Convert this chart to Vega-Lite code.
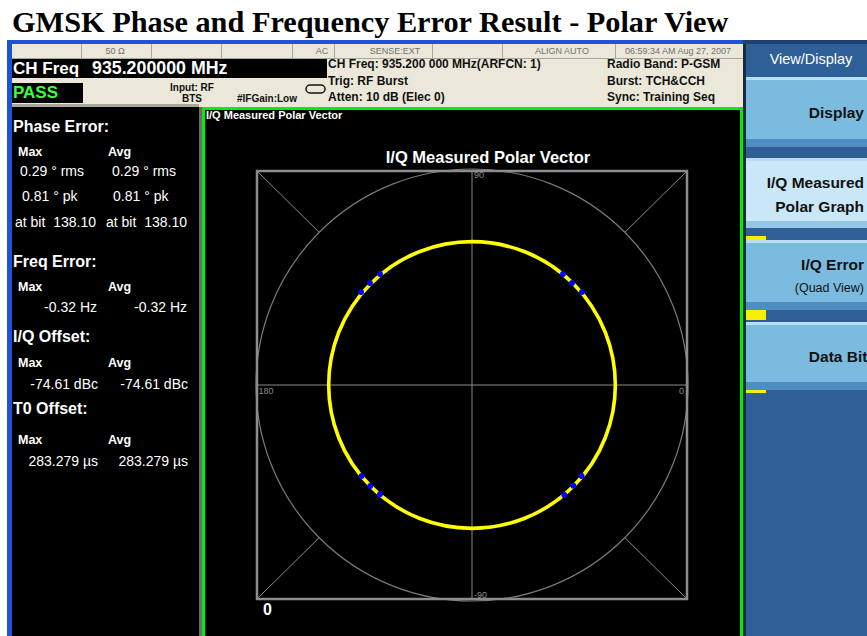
{
  "$schema": "https://vega.github.io/schema/vega-lite/v6.json",
  "width": 867,
  "height": 636,
  "padding": 0,
  "autosize": {"type": "none"},
  "background": "#ffffff",
  "config": {"view": {"stroke": null}},
  "datasets": {
    "rects": [
      {"part": "blue", "x": 7, "x2": 867, "y": 40, "y2": 636},
      {"part": "beige", "x": 12, "x2": 743, "y": 44, "y2": 107},
      {"part": "line", "x": 12, "x2": 743, "y": 58, "y2": 59},
      {"part": "line", "x": 81, "x2": 82, "y": 44, "y2": 58},
      {"part": "line", "x": 151, "x2": 152, "y": 44, "y2": 58},
      {"part": "line", "x": 221, "x2": 222, "y": 44, "y2": 58},
      {"part": "line", "x": 292, "x2": 293, "y": 44, "y2": 58},
      {"part": "line", "x": 334, "x2": 335, "y": 44, "y2": 58},
      {"part": "line", "x": 432, "x2": 433, "y": 44, "y2": 58},
      {"part": "line", "x": 502, "x2": 503, "y": 44, "y2": 58},
      {"part": "line", "x": 615, "x2": 616, "y": 44, "y2": 58},
      {"part": "black", "x": 12, "x2": 327, "y": 59, "y2": 78},
      {"part": "black", "x": 12, "x2": 83, "y": 83, "y2": 103},
      {"part": "line", "x": 12, "x2": 199, "y": 104, "y2": 107},
      {"part": "black", "x": 12, "x2": 199, "y": 107, "y2": 636},
      {"part": "gray", "x": 199, "x2": 202, "y": 107, "y2": 636},
      {"part": "green", "x": 202, "x2": 743, "y": 107, "y2": 636},
      {"part": "black", "x": 205, "x2": 740, "y": 110, "y2": 636},
      {"part": "navy", "x": 743, "x2": 867, "y": 40, "y2": 636},
      {"part": "navyTop", "x": 743, "x2": 867, "y": 40, "y2": 44},
      {"part": "dark", "x": 743, "x2": 746, "y": 44, "y2": 636},
      {"part": "key", "x": 746, "x2": 867, "y": 77, "y2": 147},
      {"part": "keyHi", "x": 746, "x2": 867, "y": 77, "y2": 80},
      {"part": "keyLo", "x": 746, "x2": 867, "y": 139, "y2": 147},
      {"part": "keySel", "x": 746, "x2": 867, "y": 158, "y2": 228},
      {"part": "keyHi", "x": 746, "x2": 867, "y": 158, "y2": 161},
      {"part": "keySelLo", "x": 746, "x2": 867, "y": 221, "y2": 228},
      {"part": "key", "x": 746, "x2": 867, "y": 240, "y2": 310},
      {"part": "keyHi", "x": 746, "x2": 867, "y": 240, "y2": 243},
      {"part": "keyLo", "x": 746, "x2": 867, "y": 302, "y2": 310},
      {"part": "key", "x": 746, "x2": 867, "y": 322, "y2": 390},
      {"part": "keyHi", "x": 746, "x2": 867, "y": 322, "y2": 325},
      {"part": "keyLo", "x": 746, "x2": 867, "y": 382, "y2": 390},
      {"part": "yellow", "x": 746, "x2": 766, "y": 236, "y2": 240},
      {"part": "yellow", "x": 746, "x2": 766, "y": 310, "y2": 320},
      {"part": "yellow", "x": 746, "x2": 766, "y": 390, "y2": 393}
    ],
    "icon": [{"x": 306, "x2": 325, "y": 85, "y2": 93}],
    "texts": [
      {"role": "title", "t": "GMSK Phase and Frequency Error Result - Polar View", "x": 12, "y": 32},
      {"role": "cell", "t": "50 Ω", "x": 115, "y": 51},
      {"role": "cell", "t": "AC", "x": 322, "y": 51},
      {"role": "cell", "t": "SENSE:EXT", "x": 395, "y": 51},
      {"role": "cell", "t": "ALIGN AUTO", "x": 562, "y": 51},
      {"role": "cell", "t": "06:59:34 AM Aug 27, 2007", "x": 678, "y": 51},
      {"role": "big", "t": "CH Freq", "x": 13, "y": 69},
      {"role": "big2", "t": "935.200000 MHz", "x": 92, "y": 69},
      {"role": "pass", "t": "PASS", "x": 13, "y": 93},
      {"role": "hdr", "t": "CH Freq: 935.200 000 MHz(ARFCN: 1)", "x": 328, "y": 64},
      {"role": "hdr", "t": "Trig: RF Burst", "x": 328, "y": 81},
      {"role": "hdr", "t": "Atten: 10 dB (Elec 0)", "x": 328, "y": 97},
      {"role": "hdr", "t": "Radio Band: P-GSM", "x": 607, "y": 64},
      {"role": "hdr", "t": "Burst: TCH&CCH", "x": 607, "y": 81},
      {"role": "hdr", "t": "Sync: Training Seq", "x": 607, "y": 97},
      {"role": "hdrc", "t": "Input: RF", "x": 192, "y": 88},
      {"role": "hdrc", "t": "BTS", "x": 192, "y": 99},
      {"role": "hdrc", "t": "#IFGain:Low", "x": 267, "y": 99},
      {"role": "head", "t": "Phase Error:", "x": 13, "y": 127},
      {"role": "head", "t": "Freq Error:", "x": 13, "y": 262},
      {"role": "head", "t": "I/Q Offset:", "x": 13, "y": 337},
      {"role": "head", "t": "T0 Offset:", "x": 13, "y": 409},
      {"role": "lab", "t": "Max", "x": 18, "y": 152},
      {"role": "lab", "t": "Avg", "x": 108, "y": 152},
      {"role": "lab", "t": "Max", "x": 18, "y": 287},
      {"role": "lab", "t": "Avg", "x": 108, "y": 287},
      {"role": "lab", "t": "Max", "x": 18, "y": 363},
      {"role": "lab", "t": "Avg", "x": 108, "y": 363},
      {"role": "lab", "t": "Max", "x": 18, "y": 440},
      {"role": "lab", "t": "Avg", "x": 108, "y": 440},
      {"role": "val", "t": "0.29 ° rms", "x": 20, "y": 172},
      {"role": "val", "t": "0.29 ° rms", "x": 112, "y": 172},
      {"role": "val", "t": "0.81 ° pk", "x": 22, "y": 197},
      {"role": "val", "t": "0.81 ° pk", "x": 113, "y": 197},
      {"role": "val", "t": "at bit\u00a0 138.10", "x": 15, "y": 223},
      {"role": "val", "t": "at bit\u00a0 138.10", "x": 106, "y": 223},
      {"role": "valr", "t": "-0.32 Hz", "x": 97, "y": 308},
      {"role": "valr", "t": "-0.32 Hz", "x": 187, "y": 308},
      {"role": "valr", "t": "-74.61 dBc", "x": 98, "y": 385},
      {"role": "valr", "t": "-74.61 dBc", "x": 188, "y": 385},
      {"role": "valr", "t": "283.279 µs", "x": 98, "y": 462},
      {"role": "valr", "t": "283.279 µs", "x": 188, "y": 462},
      {"role": "small", "t": "I/Q Measured Polar Vector", "x": 206, "y": 116},
      {"role": "ptitle", "t": "I/Q Measured Polar Vector", "x": 488, "y": 158},
      {"role": "zero", "t": "0", "x": 263, "y": 610},
      {"role": "skh", "t": "View/Display", "x": 811, "y": 60},
      {"role": "sk", "t": "Display", "x": 864, "y": 113},
      {"role": "sk", "t": "I/Q Measured", "x": 864, "y": 183},
      {"role": "sk", "t": "Polar Graph", "x": 864, "y": 207},
      {"role": "sk", "t": "I/Q Error", "x": 864, "y": 265},
      {"role": "sk", "t": "Data Bits", "x": 876, "y": 357},
      {"role": "skr", "t": "(Quad View)", "x": 864, "y": 288}
    ],
    "circles": [
      {"kind": "grid", "i": 0, "q": 0, "r": 1.507},
      {"kind": "trace", "i": 0, "q": 0, "r": 1.0}
    ],
    "pgrid": [
      {"i": -1.5, "q": 0, "i2": 1.5, "q2": 0},
      {"i": 0, "q": -1.5, "i2": 0, "q2": 1.5},
      {"i": -1.5, "q": 1.5, "i2": -1.068, "q2": 1.072},
      {"i": 1.5, "q": 1.5, "i2": 1.068, "q2": 1.072},
      {"i": -1.5, "q": -1.5, "i2": -1.068, "q2": -1.072},
      {"i": 1.5, "q": -1.5, "i2": 1.068, "q2": -1.072}
    ],
    "pbox": [{"i": -1.5, "i2": 1.5, "q": -1.5, "q2": 1.5}],
    "plabels": [
      {"t": "90", "i": 0.014, "q": 1.47},
      {"t": "180", "i": -1.49, "q": -0.045},
      {"t": "0", "i": 1.444, "q": -0.045},
      {"t": "-90", "i": 0.014, "q": -1.472}
    ],
    "dots": [
      {"i": -0.642, "q": 0.778}, {"i": -0.712, "q": 0.715}, {"i": -0.774, "q": 0.652},
      {"i": 0.635, "q": 0.778}, {"i": 0.698, "q": 0.715}, {"i": 0.767, "q": 0.652},
      {"i": -0.77, "q": -0.638}, {"i": -0.71, "q": -0.708}, {"i": -0.642, "q": -0.766},
      {"i": 0.765, "q": -0.638}, {"i": 0.707, "q": -0.706}, {"i": 0.644, "q": -0.771}
    ]
  },
  "layer": [
    {
      "encoding": {
        "x": {"field": "x", "type": "quantitative", "axis": null, "scale": {"domain": [0, 867], "range": [0, 867], "nice": false, "zero": false}},
        "y": {"field": "y", "type": "quantitative", "axis": null, "scale": {"domain": [0, 636], "range": [0, 636], "nice": false, "zero": false}}
      },
      "layer": [
        {
          "data": {"name": "rects"},
          "mark": {"type": "rect", "strokeWidth": 0},
          "encoding": {
            "x2": {"field": "x2"},
            "y2": {"field": "y2"},
            "color": {
              "field": "part", "type": "nominal", "legend": null,
              "scale": {
                "domain": ["blue", "beige", "line", "black", "gray", "green", "navy", "navyTop", "dark", "key", "keyHi", "keyLo", "keySel", "keySelLo", "yellow"],
                "range": ["#1b55d6", "#ebe8d9", "#a9a79c", "#000000", "#6b6b6b", "#00f000", "#2f5f97", "#1d3f78", "#1b2a40", "#7bbbe0", "#b9def2", "#4d8dc0", "#c9e7f7", "#92c5e6", "#f4f000"]
              }
            }
          }
        },
        {
          "data": {"name": "icon"},
          "mark": {"type": "rect", "filled": false, "stroke": "#111111", "strokeWidth": 1.5, "cornerRadius": 4},
          "encoding": {"x2": {"field": "x2"}, "y2": {"field": "y2"}}
        },
        {
          "data": {"name": "texts"}, "transform": [{"filter": "datum.role === 'title'"}],
          "mark": {"type": "text", "font": "Liberation Serif", "fontSize": 30.3, "fontWeight": "bold", "align": "left", "baseline": "alphabetic", "color": "#000000"},
          "encoding": {"text": {"field": "t"}}
        },
        {
          "data": {"name": "texts"}, "transform": [{"filter": "datum.role === 'cell'"}],
          "mark": {"type": "text", "font": "Liberation Sans", "fontSize": 9, "align": "center", "baseline": "middle", "color": "#707070"},
          "encoding": {"text": {"field": "t"}}
        },
        {
          "data": {"name": "texts"}, "transform": [{"filter": "datum.role === 'big'"}],
          "mark": {"type": "text", "font": "Liberation Sans", "fontSize": 17, "fontWeight": "bold", "align": "left", "baseline": "middle", "color": "#ffffff"},
          "encoding": {"text": {"field": "t"}}
        },
        {
          "data": {"name": "texts"}, "transform": [{"filter": "datum.role === 'big2'"}],
          "mark": {"type": "text", "font": "Liberation Sans", "fontSize": 17.8, "fontWeight": "bold", "align": "left", "baseline": "middle", "color": "#ffffff"},
          "encoding": {"text": {"field": "t"}}
        },
        {
          "data": {"name": "texts"}, "transform": [{"filter": "datum.role === 'pass'"}],
          "mark": {"type": "text", "font": "Liberation Sans", "fontSize": 17, "fontWeight": "bold", "align": "left", "baseline": "middle", "color": "#3cff3c"},
          "encoding": {"text": {"field": "t"}}
        },
        {
          "data": {"name": "texts"}, "transform": [{"filter": "datum.role === 'hdr'"}],
          "mark": {"type": "text", "font": "Liberation Sans", "fontSize": 12, "fontWeight": "bold", "align": "left", "baseline": "middle", "color": "#111111"},
          "encoding": {"text": {"field": "t"}}
        },
        {
          "data": {"name": "texts"}, "transform": [{"filter": "datum.role === 'hdrc'"}],
          "mark": {"type": "text", "font": "Liberation Sans", "fontSize": 10, "fontWeight": "bold", "align": "center", "baseline": "middle", "color": "#111111"},
          "encoding": {"text": {"field": "t"}}
        },
        {
          "data": {"name": "texts"}, "transform": [{"filter": "datum.role === 'head'"}],
          "mark": {"type": "text", "font": "Liberation Sans", "fontSize": 16, "fontWeight": "bold", "align": "left", "baseline": "middle", "color": "#ffffff"},
          "encoding": {"text": {"field": "t"}}
        },
        {
          "data": {"name": "texts"}, "transform": [{"filter": "datum.role === 'lab'"}],
          "mark": {"type": "text", "font": "Liberation Sans", "fontSize": 12.5, "fontWeight": "bold", "align": "left", "baseline": "middle", "color": "#ffffff"},
          "encoding": {"text": {"field": "t"}}
        },
        {
          "data": {"name": "texts"}, "transform": [{"filter": "datum.role === 'val'"}],
          "mark": {"type": "text", "font": "Liberation Sans", "fontSize": 14, "align": "left", "baseline": "middle", "color": "#ffffff"},
          "encoding": {"text": {"field": "t"}}
        },
        {
          "data": {"name": "texts"}, "transform": [{"filter": "datum.role === 'valr'"}],
          "mark": {"type": "text", "font": "Liberation Sans", "fontSize": 14, "align": "right", "baseline": "middle", "color": "#ffffff"},
          "encoding": {"text": {"field": "t"}}
        },
        {
          "data": {"name": "texts"}, "transform": [{"filter": "datum.role === 'small'"}],
          "mark": {"type": "text", "font": "Liberation Sans", "fontSize": 11, "fontWeight": "bold", "align": "left", "baseline": "middle", "color": "#ffffff"},
          "encoding": {"text": {"field": "t"}}
        },
        {
          "data": {"name": "texts"}, "transform": [{"filter": "datum.role === 'ptitle'"}],
          "mark": {"type": "text", "font": "Liberation Sans", "fontSize": 16.5, "fontWeight": "bold", "align": "center", "baseline": "middle", "color": "#ffffff"},
          "encoding": {"text": {"field": "t"}}
        },
        {
          "data": {"name": "texts"}, "transform": [{"filter": "datum.role === 'zero'"}],
          "mark": {"type": "text", "font": "Liberation Sans", "fontSize": 16, "fontWeight": "bold", "align": "left", "baseline": "middle", "color": "#ffffff"},
          "encoding": {"text": {"field": "t"}}
        },
        {
          "data": {"name": "texts"}, "transform": [{"filter": "datum.role === 'skh'"}],
          "mark": {"type": "text", "font": "Liberation Sans", "fontSize": 14.5, "align": "center", "baseline": "middle", "color": "#ffffff"},
          "encoding": {"text": {"field": "t"}}
        },
        {
          "data": {"name": "texts"}, "transform": [{"filter": "datum.role === 'sk'"}],
          "mark": {"type": "text", "font": "Liberation Sans", "fontSize": 15.5, "fontWeight": "bold", "align": "right", "baseline": "middle", "color": "#111111"},
          "encoding": {"text": {"field": "t"}}
        },
        {
          "data": {"name": "texts"}, "transform": [{"filter": "datum.role === 'skr'"}],
          "mark": {"type": "text", "font": "Liberation Sans", "fontSize": 12.5, "align": "right", "baseline": "middle", "color": "#111111"},
          "encoding": {"text": {"field": "t"}}
        }
      ]
    },
    {
      "encoding": {
        "x": {"field": "i", "type": "quantitative", "axis": null, "scale": {"domain": [-1.5, 1.5], "range": [257, 687], "nice": false, "zero": false}},
        "y": {"field": "q", "type": "quantitative", "axis": null, "scale": {"domain": [-1.5, 1.5], "range": [599, 171], "nice": false, "zero": false}}
      },
      "layer": [
        {
          "data": {"name": "circles"}, "transform": [{"filter": "datum.kind === 'grid'"}],
          "mark": {"type": "point", "shape": "circle", "filled": false, "stroke": "#7a7a7a", "strokeWidth": 1.2, "opacity": 1},
          "encoding": {"size": {"field": "r", "type": "quantitative", "legend": null, "scale": {"type": "pow", "exponent": 2, "domain": [0, 1.5], "range": [0, 184900]}}}
        },
        {
          "data": {"name": "pgrid"},
          "mark": {"type": "rule", "stroke": "#8a8a8a", "strokeWidth": 1},
          "encoding": {"x2": {"field": "i2"}, "y2": {"field": "q2"}}
        },
        {
          "data": {"name": "pbox"},
          "mark": {"type": "rect", "filled": false, "stroke": "#8c8c8c", "strokeWidth": 2.5},
          "encoding": {"x2": {"field": "i2"}, "y2": {"field": "q2"}}
        },
        {
          "data": {"name": "plabels"},
          "mark": {"type": "text", "font": "Liberation Sans", "fontSize": 9, "align": "left", "baseline": "middle", "color": "#8c8c8c"},
          "encoding": {"text": {"field": "t"}}
        },
        {
          "data": {"name": "circles"}, "transform": [{"filter": "datum.kind === 'trace'"}],
          "mark": {"type": "point", "shape": "circle", "filled": false, "stroke": "#ffff00", "strokeWidth": 3.6, "opacity": 1},
          "encoding": {"size": {"field": "r", "type": "quantitative", "legend": null, "scale": {"type": "pow", "exponent": 2, "domain": [0, 1.5], "range": [0, 184900]}}}
        },
        {
          "data": {"name": "dots"},
          "mark": {"type": "point", "shape": "circle", "filled": true, "color": "#0000ff", "size": 34, "opacity": 1}
        }
      ]
    }
  ],
  "resolve": {"scale": {"x": "independent", "y": "independent"}}
}
